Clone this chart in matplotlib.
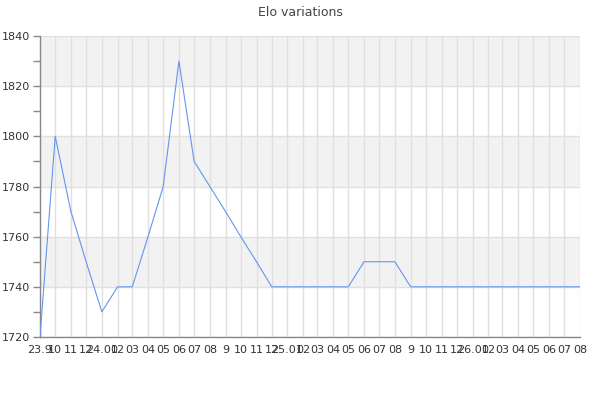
import matplotlib
matplotlib.use("Agg")
import matplotlib.pyplot as plt
from datetime import date

# monthly elo values, Sep 2023 .. Aug 2026
months = [date(2023 + (8 + i) // 12, (8 + i) % 12 + 1, 1) for i in range(36)]
elo = [1720, 1800, 1770, 1750,
       1730, 1740, 1740, 1760, 1780, 1830, 1790, 1780, 1770, 1760, 1750, 1740,
       1740, 1740, 1740, 1740, 1740, 1750, 1750, 1750, 1740, 1740, 1740, 1740,
       1740, 1740, 1740, 1740, 1740, 1740, 1740, 1740]
tick_labels = ["23.9", "10", "11", "12",
               "24.01", "02", "03", "04", "05", "06", "07", "08", "9", "10", "11", "12",
               "25.01", "02", "03", "04", "05", "06", "07", "08", "9", "10", "11", "12",
               "26.01", "02", "03", "04", "05", "06", "07", "08"]

plt.rcParams['font.family'] = ['DejaVu Sans']

fig = plt.figure(figsize=(6, 4), dpi=100)
ax = fig.add_axes([40/600, 63/400, 540/600, 301/400])

# alternating bands
for lo in (1740, 1780, 1820):
    ax.axhspan(lo, lo + 20, color='#f2f2f2', zorder=0, lw=0)

ax.plot(months, elo, color='#6495ed', lw=0.8, zorder=3)

ax.set_ylim(1720, 1840)
ax.set_xlim(months[0], months[-1])
ax.set_yticks(range(1720, 1841, 20))
ax.set_yticks(range(1730, 1840, 20), minor=True)
ax.set_xticks(months)
ax.set_xticklabels(tick_labels)

ax.grid(True, which='major', color='#e0e0e0', lw=1, zorder=1)
ax.set_axisbelow(True)

for s in ('top', 'right'):
    ax.spines[s].set_visible(False)
for s in ('left', 'bottom'):
    ax.spines[s].set_color('#888888')
    ax.spines[s].set_linewidth(1)

ax.tick_params(axis='y', which='both', direction='out', length=5, width=1,
               color='#888888', labelsize=8, labelcolor='#333333', pad=2)
ax.tick_params(axis='x', length=0, labelsize=8, labelcolor='#333333', pad=6)

fig.text(0.5, 0.97, "Elo variations", ha='center', va='center',
         fontsize=9, color='#444444')

fig.savefig("out.png", dpi=100)
